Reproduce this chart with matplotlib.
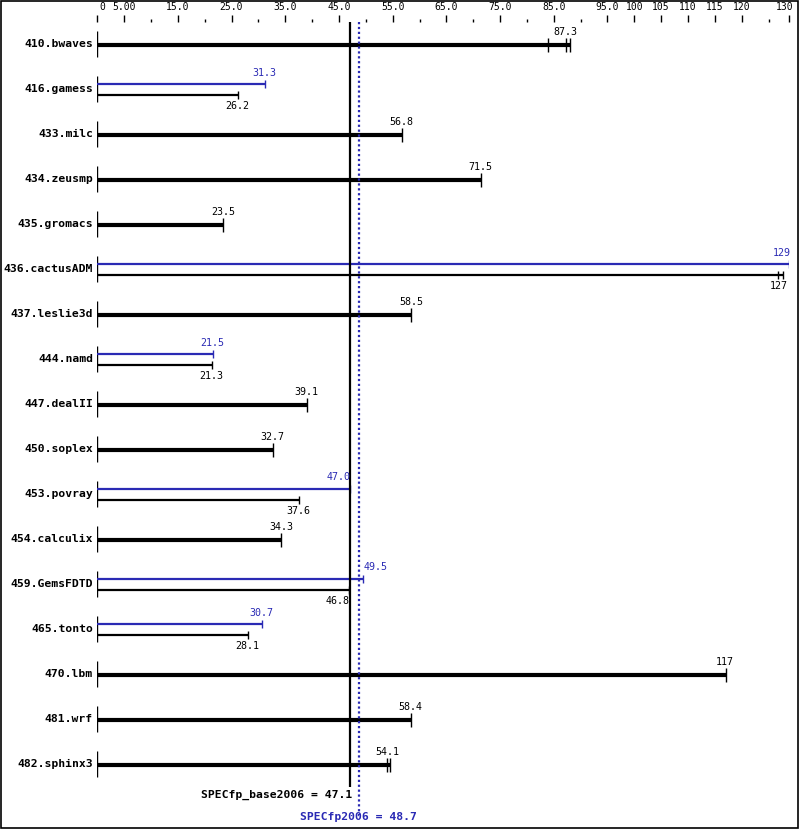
import matplotlib
matplotlib.use('Agg')
import matplotlib.pyplot as plt
from matplotlib.patches import Rectangle

# ------------------------------------------------------------------
# Data
# ------------------------------------------------------------------
benchmarks = [
    '410.bwaves', '416.gamess', '433.milc', '434.zeusmp', '435.gromacs',
    '436.cactusADM', '437.leslie3d', '444.namd', '447.dealII', '450.soplex',
    '453.povray', '454.calculix', '459.GemsFDTD', '465.tonto', '470.lbm',
    '481.wrf', '482.sphinx3',
]
base_ratio = [87.3, 26.2, 56.8, 71.5, 23.5, 127, 58.5, 21.3, 39.1, 32.7,
              37.6, 34.3, 46.8, 28.1, 117, 58.4, 54.1]
# None -> peak equals base (single thick bar)
peak_ratio = [None, 31.3, None, None, None, 129, None, 21.5, None, None,
              47.0, None, 49.5, 30.7, None, None, None]
base_labels = ['87.3', '26.2', '56.8', '71.5', '23.5', '127', '58.5', '21.3',
               '39.1', '32.7', '37.6', '34.3', '46.8', '28.1', '117', '58.4',
               '54.1']
peak_labels = [None, '31.3', None, None, None, '129', None, '21.5', None, None,
               '47.0', None, '49.5', '30.7', None, None, None]
# individual run results (where distinguishable)
base_runs = {0: [83.9, 87.3, 88.0], 5: [126.8, 127.6], 16: [54.0, 54.5]}
peak_runs = {5: [128.9, 129.5]}

spec_base = 47.1
spec_peak = 48.7

tick_vals = [0, 5, 15, 25, 35, 45, 55, 65, 75, 85, 95, 100, 105, 110, 115, 120]
tick_text = ['0', '5.00', '15.0', '25.0', '35.0', '45.0', '55.0', '65.0',
             '75.0', '85.0', '95.0', '100', '105', '110', '115', '120']
minor_vals = [10, 20, 30, 40, 50, 60, 70, 80, 90, 125]
x_max = 128.9
x_max_label = '130'

BLUE = '#2a2ab4'
MONO = 'DejaVu Sans Mono'

# ------------------------------------------------------------------
# Figure
# ------------------------------------------------------------------
W, H = 799, 831
fig = plt.figure(figsize=(W / 100, H / 100), dpi=100)
left_px, scale = 97.3, 5.37
ax = fig.add_axes([left_px / W, 0, x_max * scale / W, 1])
ax.set_xlim(0, x_max)
ax.set_ylim(H, 0)
ax.axis('off')

px = 1.0 / scale  # one pixel in data units

# top scale
for v, t in zip(tick_vals, tick_text):
    ax.vlines(v, 15, 22, color='black', lw=1.0, clip_on=False)
    dx = 1.0 if v == 0 else 0
    ax.text(v + dx, 7, t, ha='center', va='center', fontsize=7,
            family=MONO, clip_on=False)
ax.vlines(x_max, 15, 22, color='black', lw=1.0, clip_on=False)
ax.text(x_max + 4 * px, 7, x_max_label, ha='right', va='center', fontsize=7,
        family=MONO, clip_on=False)
for v in minor_vals:
    ax.vlines(v, 19, 22, color='black', lw=1.0, clip_on=False)

# reference lines
ax.vlines(spec_base, 22, 787, color='black', lw=1.6, zorder=3)
ax.vlines(spec_peak, 22, 815, color=BLUE, lw=1.6, linestyles=(0, (1, 1.2)),
          zorder=3)


def label_ha(v):
    if v > 128:
        return 'right', v + px
    if spec_base - 3 < v < spec_base + 0.5:
        return 'right', v + px
    if spec_base + 0.5 <= v < spec_peak + 3:
        return 'left', v
    return 'center', v - 0.6 * px


for i, name in enumerate(benchmarks):
    yc = 44 + 45 * i
    ax.text(-0.8, yc, name, ha='right', va='center', fontsize=8.2,
            fontweight='bold', family=MONO)
    ax.vlines(0, yc - 13, yc + 13, color='black', lw=1.0)

    b = base_ratio[i]
    p = peak_ratio[i]
    if p is None:
        y = yc + 1
        runs = base_runs.get(i, [b])
        ax.hlines(y, 0, max(runs), color='black', lw=3.0, zorder=2)
        for r in runs:
            ax.vlines(r, y - 7, y + 7, color='black', lw=1.0)
        ha, xt = label_ha(b)
        ax.text(xt, y - 8, base_labels[i], ha=ha, va='bottom', fontsize=7.2,
                family=MONO)
    else:
        yp, yb = yc - 5.5, yc + 6
        pruns = peak_runs.get(i, [p])
        bruns = base_runs.get(i, [b])
        ax.hlines(yp, 0, max(pruns), color=BLUE, lw=1.6, zorder=2)
        for r in pruns:
            ax.vlines(r, yp - 4, yp + 4, color=BLUE, lw=1.0)
        ax.hlines(yb, 0, max(bruns), color='black', lw=1.6, zorder=2)
        for r in bruns:
            ax.vlines(r, yb - 4, yb + 4, color='black', lw=1.0)
        ha, xt = label_ha(p)
        ax.text(xt, yp - 6, peak_labels[i], ha=ha, va='bottom', fontsize=7.2,
                family=MONO, color=BLUE)
        ha, xt = label_ha(b)
        ax.text(xt, yb + 6, base_labels[i], ha=ha, va='top', fontsize=7.2,
                family=MONO)

ax.text(spec_base + 0.4, 795, f'SPECfp_base2006 = {spec_base}', ha='right',
        va='center', fontsize=8.2, fontweight='bold', family=MONO)
ax.text(spec_peak, 817, f'SPECfp2006 = {spec_peak}', ha='center',
        va='center', fontsize=8.2, fontweight='bold', family=MONO, color=BLUE)

# outer frame
fig.add_artist(Rectangle((0.5 / W, 3 / H), (W - 1.5) / W, (H - 3.5) / H,
                         transform=fig.transFigure, fill=False,
                         edgecolor='black', lw=1.2))

fig.savefig('out.png', dpi=100, facecolor='white')
